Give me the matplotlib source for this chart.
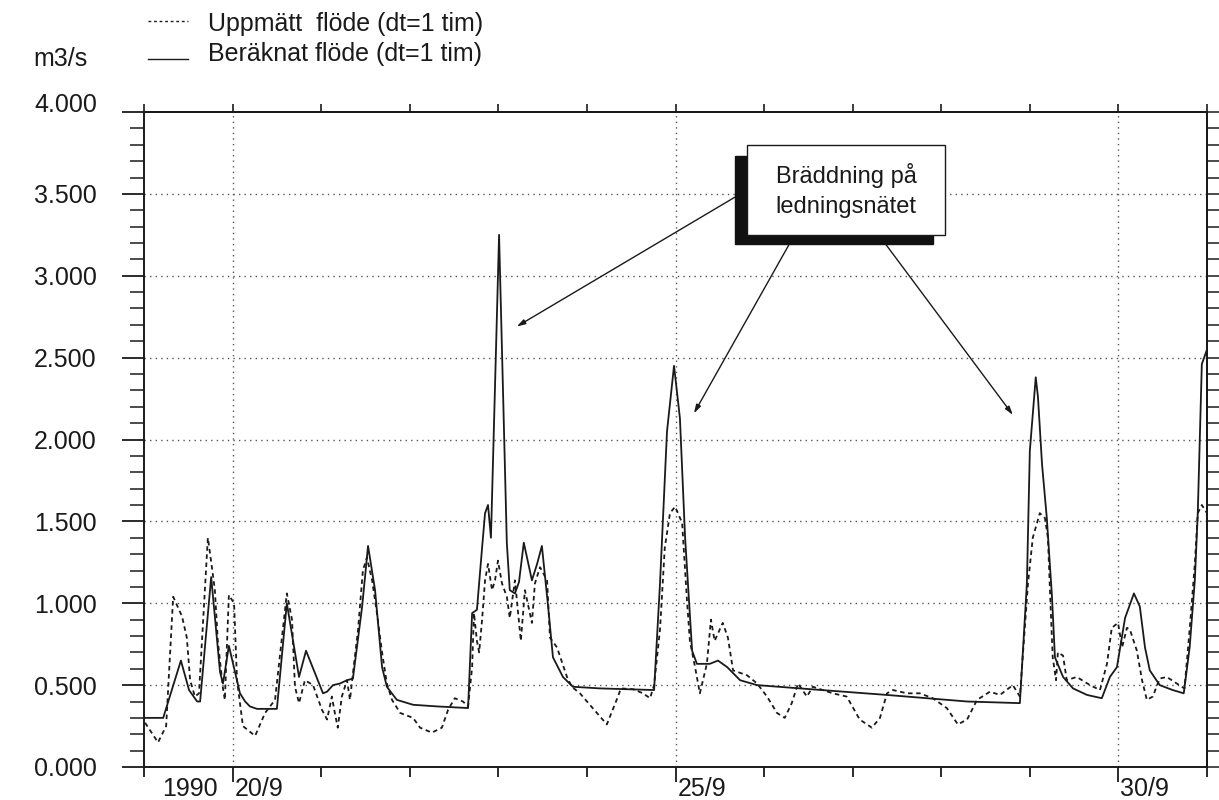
import matplotlib
matplotlib.use("Agg")
import matplotlib.pyplot as plt
from matplotlib.lines import Line2D
from matplotlib.patches import Rectangle
import numpy as np

plt.rcParams['font.family'] = ['Liberation Sans', 'DejaVu Sans']

# ---- data (hours from 19/9 1990 00:00, flow in m3/s) ----
calc_hours = [0, 5.2, 10.0, 12.2, 14.4, 15.2, 18.2, 20.6, 21.4, 23.0, 26.0, 27.4, 28.7, 30.6, 36.0,
              38.7, 42.0, 43.9, 48.5, 49.6, 51.2, 53.1, 55.0, 56.6, 59.1, 60.7, 62.6, 64.5,
              65.8, 68.5, 72.9, 79.4, 87.8, 88.9, 90.2, 91.6, 92.4, 93.2, 94.0, 96.2, 98.3,
              99.1, 100.5, 101.6, 102.9, 105.1, 106.5, 107.8, 109.4, 110.8, 113.5, 116.2,
              123.5, 138.2, 139.8, 141.7, 143.6, 145.2, 146.6, 148.5, 149.8, 153.3, 155.5,
              158.0, 161.5, 166.1, 177.7, 201.3, 223.0, 237.3, 239.2, 240.0, 241.6, 242.2,
              243.3, 244.6, 246.0, 246.8, 249.0, 251.7, 255.5, 259.5, 261.7, 263.6, 265.8,
              268.2, 269.8, 271.2, 272.5, 275.2, 278.7, 281.7, 283.3, 284.7, 285.5, 286.6, 288.0]
calc_values = [0.30, 0.30, 0.65, 0.47, 0.40, 0.40, 1.16, 0.58, 0.51, 0.74, 0.45, 0.40, 0.37, 0.355, 0.355,
               1.00, 0.55, 0.71, 0.45, 0.46, 0.50, 0.51, 0.53, 0.54, 0.98, 1.35, 1.08, 0.61,
               0.49, 0.41, 0.38, 0.37, 0.36, 0.94, 0.96, 1.34, 1.55, 1.60, 1.40, 3.25, 1.37,
               1.08, 1.06, 1.13, 1.37, 1.14, 1.24, 1.35, 1.00, 0.67, 0.55, 0.49,
               0.48, 0.47, 1.12, 2.05, 2.45, 2.13, 1.40, 0.71, 0.63, 0.63, 0.65,
               0.61, 0.53, 0.50, 0.48, 0.44, 0.40, 0.39, 1.12, 1.93, 2.38, 2.26,
               1.85, 1.52, 1.04, 0.67, 0.55, 0.48, 0.44, 0.42, 0.55, 0.61, 0.91,
               1.06, 0.98, 0.73, 0.59, 0.50, 0.47, 0.45, 0.73, 1.14, 1.55, 2.46, 2.55]

meas_hours = [0.3, 3.8, 6.0, 7.9, 10.3, 11.6, 12.5, 13.8, 14.9, 17.3, 18.4, 19.2, 20.0, 21.4,
              21.9, 23.0, 24.4, 25.2, 26.8, 30.1, 32.8, 35.5, 38.7, 40.1, 40.9, 42.0, 43.6,
              45.8, 48.2, 49.6, 50.9, 51.7, 52.5, 53.6, 55.0, 55.8, 56.6, 58.0, 59.3, 60.4,
              61.8, 63.1, 64.5, 65.8, 67.2, 69.4, 72.9, 74.8, 78.0, 80.7, 82.4, 84.2, 86.4,
              87.8, 88.9, 89.4, 90.2, 90.8, 91.6, 92.4, 93.2, 94.3, 95.1, 95.9, 97.0, 98.3,
              99.1, 100.5, 102.1, 103.2, 105.1, 105.9, 107.3, 109.2, 110.0, 111.9, 114.6,
              115.9, 118.1, 125.4, 128.4, 129.2, 132.5, 135.2, 137.1, 138.2, 139.8, 141.1,
              142.5, 143.9, 145.8, 147.1, 147.9, 149.3, 150.6, 152.5, 153.6, 154.6, 156.8,
              158.2, 159.6, 163.4, 166.1, 168.8, 171.5, 173.6, 175.5, 177.2, 179.6, 181.2,
              186.6, 190.4, 193.9, 197.2, 199.4, 201.3, 202.9, 206.7, 210.2, 213.7, 217.5,
              220.5, 223.0, 225.7, 229.2, 231.9, 235.4, 237.3, 239.5, 240.8, 242.7, 244.1,
              244.9, 245.7, 246.2, 247.1, 247.6, 249.0, 250.0, 252.7, 256.3, 259.0, 260.9,
              262.2, 263.9, 265.0, 266.3, 267.1, 269.0, 270.4, 271.7, 273.3, 275.2, 277.1,
              279.8, 281.9, 283.3, 284.7, 285.5, 286.6, 288.0]
meas_values = [0.27, 0.15, 0.25, 1.04, 0.92, 0.79, 0.53, 0.43, 0.45, 1.40, 1.22, 1.08, 0.77, 0.48,
               0.41, 1.05, 1.00, 0.53, 0.25, 0.19, 0.33, 0.41, 1.06, 0.90, 0.49, 0.39, 0.53,
               0.50, 0.35, 0.29, 0.43, 0.33, 0.24, 0.43, 0.53, 0.41, 0.57, 0.84, 1.20, 1.28,
               1.14, 0.94, 0.70, 0.51, 0.41, 0.33, 0.30, 0.24, 0.21, 0.24, 0.35, 0.42, 0.40,
               0.37, 0.61, 0.94, 0.77, 0.70, 0.90, 1.14, 1.24, 1.08, 1.14, 1.26, 1.12, 1.04,
               0.91, 1.14, 0.77, 1.08, 0.88, 1.12, 1.22, 1.14, 0.79, 0.73, 0.55,
               0.49, 0.45, 0.26, 0.43, 0.48, 0.475, 0.45, 0.42, 0.50, 0.84, 1.34,
               1.55, 1.59, 1.49, 1.02, 0.77, 0.61, 0.45, 0.63, 0.90, 0.77, 0.88,
               0.79, 0.59, 0.56, 0.51, 0.43, 0.33, 0.30, 0.39, 0.51, 0.43, 0.49,
               0.45, 0.43, 0.29, 0.24, 0.30, 0.45, 0.47, 0.45, 0.45, 0.42, 0.36,
               0.26, 0.29, 0.41, 0.46, 0.44, 0.50, 0.43, 1.12, 1.40, 1.55, 1.52,
               1.40, 0.94, 0.67, 0.53, 0.70, 0.68, 0.53, 0.55, 0.50, 0.47, 0.63,
               0.85, 0.88, 0.73, 0.85, 0.84, 0.71, 0.53, 0.41, 0.43, 0.54, 0.55,
               0.51, 0.48, 0.84, 1.24, 1.55, 1.60, 1.55]

date_label_hours = [4.9, 24.5, 144.5, 264.5]
date_labels = ['1990', '20/9', '25/9', '30/9']
grid_day_hours = [24, 144, 264]
y_major = [0.0, 0.5, 1.0, 1.5, 2.0, 2.5, 3.0, 3.5, 4.0]

legend_meas = 'Uppmätt  flöde (dt=1 tim)'
legend_calc = 'Beräknat flöde (dt=1 tim)'
unit_label = 'm3/s'
note_text = 'Bräddning på\nledningsnätet'

# ---- figure ----
W, H = 1219, 800
fig = plt.figure(figsize=(W / 100, H / 100), dpi=100)
L, R, B, T = 144, 1207, 767, 112
ax = fig.add_axes([L / W, 1 - B / H, (R - L) / W, (B - T) / H])
ink = '#1a1a1a'

ax.plot(calc_hours, calc_values, color=ink, lw=1.3)
ax.plot(meas_hours, meas_values, color=ink, lw=1.3, linestyle=(0, (2.5, 2.0)))

ax.set_xlim(0, 288)
ax.set_ylim(0, 4)

for s in ax.spines.values():
    s.set_linewidth(1.4)
    s.set_color(ink)

# dotted grid
for v in y_major[1:-1]:
    ax.axhline(v, color='#555555', lw=1.0, linestyle=(0, (1, 3)), zorder=0)
for d in grid_day_hours:
    ax.axvline(d, color='#555555', lw=1.0, linestyle=(0, (1, 3)), zorder=0)

# y ticks left
ax.set_yticks(y_major)
ax.set_yticklabels(['%.3f' % v for v in y_major[:-1]] + [''])
ax.set_yticks(np.arange(0, 4.0001, 0.1), minor=True)
ax.tick_params(axis='y', which='major', direction='out', length=16, width=1.3,
               color=ink, pad=18, labelsize=18, labelcolor=ink)
ax.tick_params(axis='y', which='minor', direction='out', length=10, width=1.1, color=ink)
# top label sits slightly above its tick
ax.annotate('%.3f' % y_major[-1], xy=(0, y_major[-1]), xycoords=('axes fraction', 'data'),
            xytext=(-34, 5), textcoords='offset points', ha='right', va='center',
            fontsize=18, color=ink, annotation_clip=False)

# x ticks bottom
ax.set_xticks(grid_day_hours)
ax.set_xticklabels([])
ax.set_xticks(np.arange(0, 289, 24), minor=True)
ax.tick_params(axis='x', which='major', direction='out', length=11, width=1.3, color=ink)
ax.tick_params(axis='x', which='minor', direction='out', length=7, width=1.3, color=ink)
for h, lab in zip(date_label_hours, date_labels):
    ax.text(h, -0.06, lab, ha='left', va='top', fontsize=18, color=ink, clip_on=False)

# top ticks
secx = ax.secondary_xaxis('top')
secx.set_xticks(np.arange(0, 289, 24))
secx.set_xticklabels([])
secx.tick_params(direction='out', length=6, width=1.2, color=ink)
secx.spines['top'].set_linewidth(1.4)

# right ticks
secy = ax.secondary_yaxis('right')
secy.set_yticks(np.arange(0, 4.0001, 0.1))
secy.set_yticklabels([])
secy.tick_params(direction='out', length=9, width=1.1, color=ink)
secy.spines['right'].set_linewidth(1.4)

# legend (manual)
fig.add_artist(Line2D([148 / W, 188 / W], [1 - 21 / H, 1 - 21 / H], color=ink, lw=1.0,
                      linestyle=(0, (2, 2))))
fig.add_artist(Line2D([148 / W, 188 / W], [1 - 59 / H, 1 - 59 / H], color=ink, lw=1.0))
fig.text(208 / W, 1 - 31 / H, legend_meas, fontsize=18, va='baseline', ha='left', color=ink)
fig.text(208 / W, 1 - 61 / H, legend_calc, fontsize=18, va='baseline', ha='left', color=ink)
fig.text(33 / W, 1 - 66 / H, unit_label, fontsize=18, va='baseline', ha='left', color=ink)

# annotation box with shadow
ax.add_patch(Rectangle((160.1, 3.195), 53.6, 0.535, facecolor='#111111', edgecolor='#111111',
                       zorder=5, clip_on=False))
ax.add_patch(Rectangle((163.4, 3.25), 53.6, 0.55, facecolor='white', edgecolor=ink, lw=1.0,
                       zorder=6, clip_on=False))
ax.text(190.2, 3.52, note_text, ha='center', va='center', fontsize=17, color=ink,
        linespacing=1.45, zorder=7)

arrow_kw = dict(arrowstyle='-|>,head_length=0.5,head_width=0.15', color=ink, lw=1.0,
                shrinkA=0, shrinkB=0)
ax.annotate('', xy=(101.0, 2.69), xytext=(160.1, 3.48), arrowprops=arrow_kw, zorder=4)
ax.annotate('', xy=(149.0, 2.16), xytext=(175.0, 3.20), arrowprops=arrow_kw, zorder=4)
ax.annotate('', xy=(235.4, 2.15), xytext=(200.7, 3.20), arrowprops=arrow_kw, zorder=4)

fig.savefig('out.png', dpi=100, facecolor='white')
